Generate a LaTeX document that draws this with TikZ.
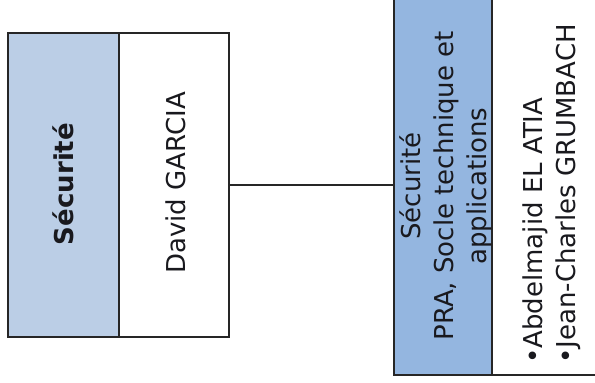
\documentclass[tikz,border=0pt]{standalone}
\usepackage{fontspec}
\setmainfont{DejaVu Sans}
\definecolor{leftblue}{RGB}{187,206,230}
\definecolor{rightblue}{RGB}{148,182,224}
\definecolor{edge}{RGB}{38,38,38}
\definecolor{ink}{RGB}{25,25,30}
\tikzset{
  panel/.style={draw=edge, line width=1.3pt, inner sep=0pt},
  label/.style={text=ink, inner sep=0pt, rotate=90, font=\fontsize{26}{33}\selectfont},
  link/.style={draw=edge, line width=1.3pt}
}
\begin{document}
\begin{tikzpicture}[x=1pt,y=1pt]
\clip (0,0) rectangle (595,383);
\useasboundingbox (0,0) rectangle (595,383);
\fill[white] (0,0) rectangle (595,383);
% left unit
\node[panel, fill=leftblue, minimum width=111pt, minimum height=304pt] (secl) at (63.5,198) {};
\node[panel, fill=white, minimum width=110pt, minimum height=304pt] (david) at (174,198) {};
% right unit
\node[panel, fill=rightblue, minimum width=98pt, minimum height=380pt] (secr) at (443,198) {};
\node[panel, fill=white, minimum width=130pt, minimum height=380pt] (names) at (557,198) {};
% connector
\draw[link] (david.east) -- (david.east -| secr.west);
% texts
\node[label, font=\fontsize{26}{33}\selectfont\bfseries, anchor=base] (t1) at (73,199) {Sécurité};
\node[label, anchor=base] (t2) at (185,200) {David GARCIA};
\node[label, anchor=base] (t3) at (420,197) {Sécurité};
\node[label, anchor=base] (t4) at (453,197) {PRA, Socle technique et};
\node[label, anchor=base] (t5) at (486,197) {applications};
\node[label, anchor=base west] (t6) at (542,19) {•Abdelmajid EL ATIA};
\node[label, anchor=base west] (t7) at (575,19) {•Jean-Charles GRUMBACH};
\end{tikzpicture}
\end{document}
